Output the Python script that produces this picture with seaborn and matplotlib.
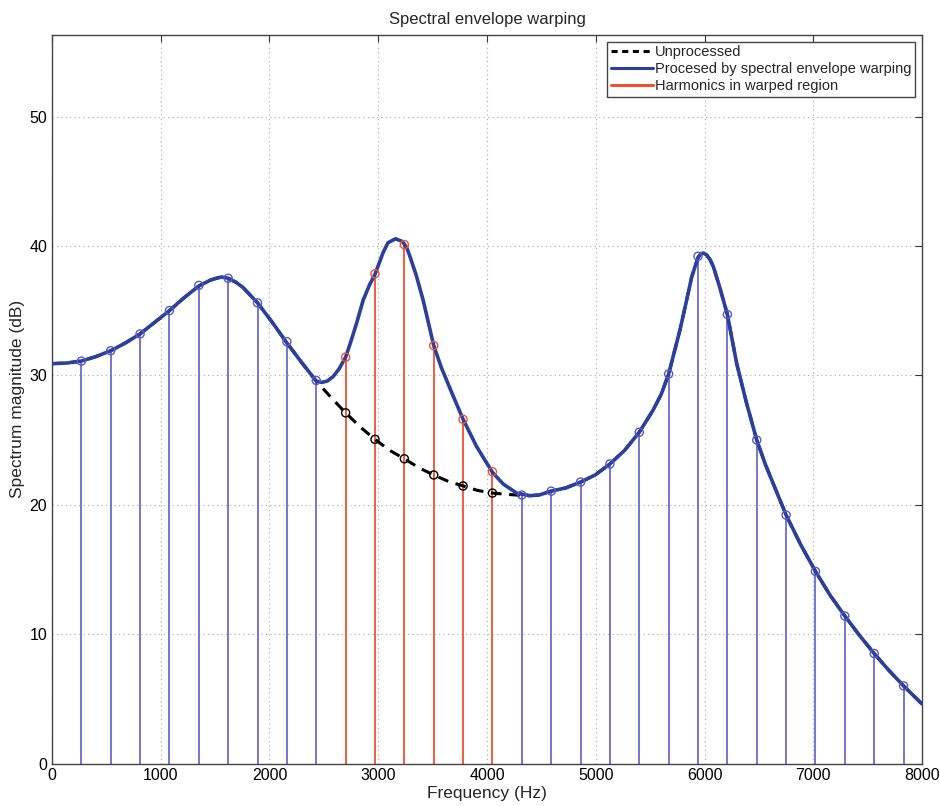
import numpy as np
import pandas as pd
import matplotlib
matplotlib.use("Agg")
import matplotlib.pyplot as plt
from matplotlib.lines import Line2D
import seaborn as sns


# --------------------------
# 数据
# --------------------------
# 处理后的谱包络（蓝色实线）
env_freq = [0, 135, 270, 405, 540, 675, 810, 945, 1080, 1215, 1350, 1455, 1510,
            1560, 1620, 1690, 1755, 1890, 2025, 2160, 2295, 2430, 2480, 2530,
            2585, 2640, 2700, 2740, 2800, 2861, 2920, 2970, 3045, 3090, 3159,
            3220, 3260, 3291, 3350, 3413, 3510, 3580, 3659, 3780, 3904, 4050,
            4149, 4272, 4395, 4480, 4590, 4725, 4860, 4995, 5130, 5265, 5400,
            5526, 5600, 5670, 5774, 5830, 5882, 5940, 5965, 5989, 6020, 6050,
            6081, 6140, 6210, 6296, 6388, 6480, 6560, 6633, 6750, 6885, 7020,
            7155, 7290, 7425, 7560, 7695, 7830, 8000]
env_processed = [30.9, 30.95, 31.1, 31.45, 31.9, 32.5, 33.2, 34.1, 35.0, 36.0,
                 36.9, 37.35, 37.5, 37.6, 37.5, 37.2, 36.8, 35.6, 34.1, 32.5,
                 31.0, 29.55, 29.45, 29.55, 29.9, 30.5, 31.4, 32.4, 34.0, 35.8,
                 37.0, 37.8, 39.5, 40.25, 40.55, 40.35, 39.9, 39.2, 37.7, 35.8,
                 32.3, 30.6, 29.0, 26.6, 24.5, 22.5, 21.6, 20.9, 20.7, 20.75,
                 21.05, 21.3, 21.75, 22.3, 23.15, 24.2, 25.6, 27.3, 28.5, 30.1,
                 33.5, 35.6, 37.6, 39.1, 39.38, 39.45, 39.3, 38.95, 38.4, 36.8,
                 34.7, 30.9, 27.8, 25.0, 23.1, 21.6, 19.2, 16.9, 14.85, 13.0,
                 11.4, 9.9, 8.5, 7.2, 6.0, 4.6]

# 未处理谱包络在变形区域内的部分（黑色虚线，其余部分与蓝线重合）
warp_freq = [2430, 2565, 2700, 2835, 2970, 3105, 3240, 3375, 3510, 3645, 3780,
             3915, 4050, 4185, 4320]
warp_unprocessed = [29.55, 28.3, 27.1, 26.0, 25.05, 24.2, 23.55, 22.85, 22.3,
                    21.8, 21.45, 21.1, 20.9, 20.8, 20.72]

# 谐波（竿图）
harm_freq = [270, 540, 810, 1080, 1350, 1620, 1890, 2160, 2430, 2700, 2970,
             3240, 3510, 3780, 4050, 4320, 4590, 4860, 5130, 5400, 5670, 5940,
             6210, 6480, 6750, 7020, 7290, 7560, 7830]
harm_db = [31.1, 31.9, 33.2, 35.0, 36.95, 37.5, 35.6, 32.6, 29.6, 31.4, 37.85,
           40.1, 32.3, 26.6, 22.55, 20.75, 21.05, 21.75, 23.15, 25.6, 30.1,
           39.2, 34.7, 25.0, 19.2, 14.85, 11.4, 8.5, 6.0]
harm_warped = [False] * 9 + [True] * 6 + [False] * 14
harm_unprocessed_warped = [27.1, 25.05, 23.55, 22.3, 21.45, 20.9]

legend_labels = ["Unprocessed", "Procesed by spectral envelope warping",
                 "Harmonics in warped region"]

# --------------------------
# 颜色与字体
# --------------------------
CURVE_BLUE = "#2b3f9e"
STEM_BLUE = "#6a6ad2"
STEM_RED = "#f0522e"

sns.set_style("white")
plt.rcParams["font.family"] = ["Liberation Sans", "DejaVu Sans"]
plt.rcParams["font.size"] = 10

# --------------------------
# 组装数据
# --------------------------
env_df = pd.DataFrame({"freq": env_freq, "db": env_processed})
before = env_df[env_df["freq"] < warp_freq[0]]
after = env_df[env_df["freq"] > warp_freq[-1]]
unproc_df = pd.concat([before, pd.DataFrame({"freq": warp_freq, "db": warp_unprocessed}), after],
                      ignore_index=True)

harm_df = pd.DataFrame({"freq": harm_freq, "db": harm_db, "warped": harm_warped})
blue_h = harm_df[~harm_df["warped"]]
red_h = harm_df[harm_df["warped"]]
red_unproc = pd.DataFrame({"freq": red_h["freq"].values, "db": harm_unprocessed_warped})

# --------------------------
# 绘图
# --------------------------
fig = plt.figure(figsize=(9.4, 8.06), dpi=100)
ax = fig.add_axes([0.0553, 0.0527, 0.9256, 0.9039])

ax.vlines(blue_h["freq"], 0, blue_h["db"], color=STEM_BLUE, linewidth=1.3, zorder=2)
ax.vlines(red_h["freq"], 0, red_h["db"], color=STEM_RED, linewidth=1.3, zorder=2)

sns.lineplot(data=unproc_df, x="freq", y="db", ax=ax, color="black", linewidth=2.2,
             linestyle=(0, (3.5, 2.5)), sort=False, estimator=None, zorder=3)
sns.lineplot(data=env_df, x="freq", y="db", ax=ax, color=CURVE_BLUE, linewidth=2.6,
             sort=False, estimator=None, zorder=4)

for d, c in [(blue_h, "#5a5ac0"), (red_h, STEM_RED), (red_unproc, "black")]:
    sns.scatterplot(data=d, x="freq", y="db", ax=ax, marker="o", s=34,
                    facecolor="none", edgecolor=c, linewidth=1.0, zorder=5)

ax.set_xlim(0, 8000)
ax.set_ylim(0, 56.3)
ax.set_xticks(np.arange(0, 8001, 1000))
ax.set_yticks([0, 10, 20, 30, 40, 50])
ax.grid(True, linestyle=(0, (1, 3)), color="#a8a8a8", linewidth=0.8)
ax.tick_params(direction="in", top=True, right=True, length=5, width=0.8,
               labelsize=11.5, colors="#333333", labelcolor="black")
for s in ax.spines.values():
    s.set_color("#444444")
    s.set_linewidth(1.0)

ax.set_title("Spectral envelope warping", fontsize=12, pad=8)
ax.set_xlabel("Frequency (Hz)", fontsize=12.5, labelpad=2)
ax.set_ylabel("Spectrum magnitude (dB)", fontsize=12.5, labelpad=3)

handles = [Line2D([], [], color="black", linestyle=(0, (2, 1.5)), linewidth=2.2),
           Line2D([], [], color=CURVE_BLUE, linewidth=2.2),
           Line2D([], [], color=STEM_RED, linewidth=2.2)]
leg = ax.legend(handles, legend_labels, loc="upper right", fontsize=10.5,
                frameon=True, fancybox=False, framealpha=1, edgecolor="#444444",
                handlelength=2.9, handletextpad=0.15, labelspacing=0.2,
                borderpad=0.25, borderaxespad=0.45)
leg.get_frame().set_linewidth(1.0)

fig.savefig("out.png", dpi=100)
